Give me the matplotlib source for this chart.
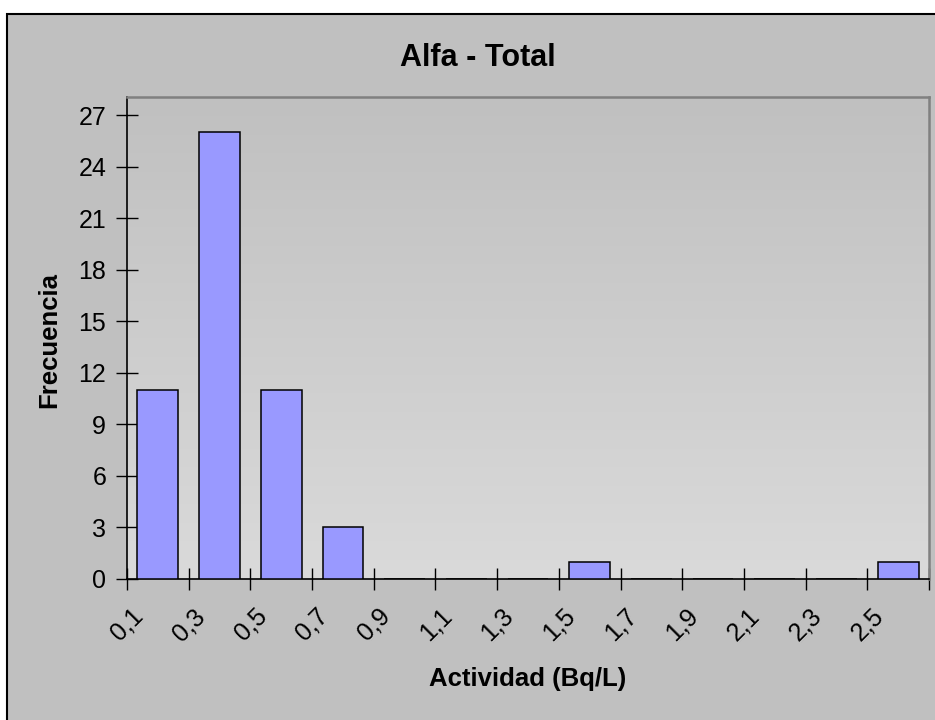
import numpy as np
import matplotlib
matplotlib.use('Agg')
import matplotlib.pyplot as plt
from matplotlib.patches import Rectangle
from matplotlib.colors import LinearSegmentedColormap

# 区間の境界ラベルと度数
edge_labels = ['0,1', '0,3', '0,5', '0,7', '0,9', '1,1', '1,3',
               '1,5', '1,7', '1,9', '2,1', '2,3', '2,5']
counts = [11, 26, 11, 3, 0, 0, 0, 1, 0, 0, 0, 0, 1]
y_ticks = [0, 3, 6, 9, 12, 15, 18, 21, 24, 27]

title = 'Alfa - Total'
x_label = 'Actividad (Bq/L)'
y_label = 'Frecuencia'

plt.rcParams['font.family'] = ['Liberation Sans', 'DejaVu Sans']

W, H = 935, 720
fig = plt.figure(figsize=(W / 100, H / 100), dpi=100, facecolor='white')

# チャート領域の背景（灰色＋黒枠）
fig.add_artist(Rectangle((7 / W, -0.1), 1.2, 1 - 14 / H + 0.1,
                         transform=fig.transFigure, facecolor='#c0c0c0',
                         edgecolor='black', linewidth=1.5, zorder=0))

left, right, top, bottom = 127, 929, 97, 579
ax = fig.add_axes([left / W, 1 - bottom / H, (right - left) / W, (bottom - top) / H])
ax.set_facecolor('none')

n = len(counts)
ymax = 28.05

# プロット領域のグラデーション（上が暗く、下が明るい）
grad = np.linspace(1, 0, 256).reshape(-1, 1)
cmap = LinearSegmentedColormap.from_list('bg', ['#c0c0c0', '#dadada'])
ax.imshow(grad, cmap=cmap, aspect='auto', extent=[0, n, 0, ymax],
          origin='lower', zorder=0)
ax.set_xlim(0, n)
ax.set_ylim(0, ymax)

x = np.arange(n) + 0.5
ax.bar(x, counts, width=0.66, color='#9999ff', edgecolor='black',
       linewidth=1.1, zorder=3)

ax.set_xticks(np.arange(n + 1))
ax.set_xticklabels(edge_labels + [''], rotation=45, ha='center', va='top')
ax.set_yticks(y_ticks)
ax.set_yticklabels([str(v) for v in y_ticks])

ax.tick_params(axis='both', direction='inout', length=16, width=1,
               labelsize=18, color='black')
ax.tick_params(axis='x', pad=10)
ax.tick_params(axis='y', pad=7)

for s in ['top', 'right']:
    ax.spines[s].set_color('#808080')
    ax.spines[s].set_linewidth(1.8)
for s in ['left', 'bottom']:
    ax.spines[s].set_color('black')
    ax.spines[s].set_linewidth(1.2)

fig.text(477.5 / W, 1 - 58 / H, title, ha='center', va='center',
         fontsize=22, fontweight='bold')
fig.text(528 / W, 1 - 679 / H, x_label, ha='center', va='center',
         fontsize=18.5, fontweight='bold')
fig.text(49 / W, 1 - 340 / H, y_label, ha='center', va='center',
         rotation=90, fontsize=18.5, fontweight='bold')

plt.savefig('out.png', dpi=100, facecolor=fig.get_facecolor())
plt.close()
print('Plot saved to out.png')
